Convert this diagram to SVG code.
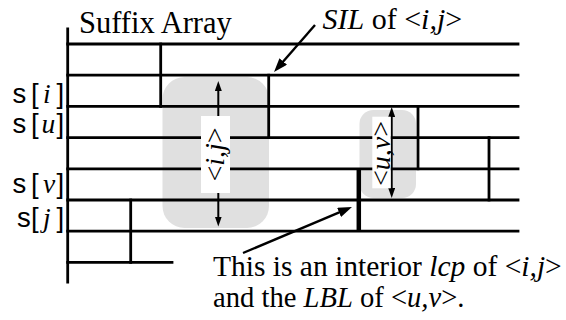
<svg xmlns="http://www.w3.org/2000/svg" width="566" height="320" viewBox="0 0 566 320">
  <defs>
    <style>
      .grid { stroke: #000; stroke-width: 2.8; fill: none; stroke-linecap: square; }
      .thick { stroke: #000; stroke-width: 4.5; fill: none; }
      .band { fill: #e0e0e0; }
      .tag { fill: #fff; }
      .ptr { stroke: #000; stroke-width: 2.4; fill: none; }
      .span { stroke: #000; stroke-width: 2; fill: none; }
      .serif { font-family: "Liberation Serif", "Times New Roman", serif; fill: #000; }
      .sans { font-family: "Liberation Sans", Arial, sans-serif; fill: #000; }
      .it { font-style: italic; }
    </style>
    <marker id="head" viewBox="0 0 14 10" refX="6" refY="5" markerWidth="14" markerHeight="10" orient="auto" markerUnits="userSpaceOnUse">
      <path d="M0,0 L14,5 L0,10 z" fill="#000"/>
    </marker>
    <marker id="tip" viewBox="0 0 10 7" refX="5" refY="3.5" markerWidth="10" markerHeight="7" orient="auto-start-reverse" markerUnits="userSpaceOnUse">
      <path d="M0,0 L10,3.5 L0,7 z" fill="#000"/>
    </marker>
  </defs>

  <!-- shaded intervals -->
  <g id="interval-ij-band">
    <rect class="band" x="162.5" y="77" width="106.5" height="151" rx="22" ry="22"/>
  </g>
  <g id="interval-uv-band">
    <rect class="band" x="359.5" y="110" width="56.5" height="88" rx="14" ry="14"/>
  </g>

  <!-- suffix array rows and lcp boundaries -->
  <g id="suffix-array">
    <line class="grid" x1="67.7" y1="29" x2="67.7" y2="282"/>
    <line class="grid" x1="67.7" y1="44" x2="518" y2="44"/>
    <line class="grid" x1="67.7" y1="75.2" x2="518" y2="75.2"/>
    <line class="grid" x1="67.7" y1="106.4" x2="518" y2="106.4"/>
    <line class="grid" x1="67.7" y1="137.6" x2="518" y2="137.6"/>
    <line class="grid" x1="67.7" y1="168.8" x2="518" y2="168.8"/>
    <line class="grid" x1="67.7" y1="200" x2="518" y2="200"/>
    <line class="grid" x1="67.7" y1="231.2" x2="518" y2="231.2"/>
    <line class="grid" x1="67.7" y1="262.4" x2="172" y2="262.4"/>
    <line class="grid" x1="160.7" y1="44" x2="160.7" y2="106.4"/>
    <line class="grid" x1="268.7" y1="75.2" x2="268.7" y2="137.6"/>
    <line class="grid" x1="418" y1="106.4" x2="418" y2="168.8"/>
    <line class="grid" x1="489" y1="137.6" x2="489" y2="200"/>
    <line class="grid" x1="130.7" y1="200" x2="130.7" y2="262.4"/>
    <line class="thick" x1="358.8" y1="168.8" x2="358.8" y2="231.2"/>
    <text class="serif" x="79" y="33" font-size="30.5">Suffix Array</text>
  </g>

  <!-- row labels -->
  <g id="row-labels" font-size="27.5">
    <text class="sans" y="103"><tspan x="12.5">s</tspan><tspan x="31">[</tspan><tspan class="serif it" x="43">i</tspan><tspan x="56.5">]</tspan></text>
    <text class="sans" y="133"><tspan x="12.5">s</tspan><tspan x="31">[</tspan><tspan class="serif it" x="41.5">u</tspan><tspan x="56.5">]</tspan></text>
    <text class="sans" y="193"><tspan x="12.5">s</tspan><tspan x="31">[</tspan><tspan class="serif it" x="43">v</tspan><tspan x="56.5">]</tspan></text>
    <text class="sans" y="226.5"><tspan x="17">s</tspan><tspan x="31">[</tspan><tspan class="serif it" x="43">j</tspan><tspan x="56.5">]</tspan></text>
  </g>

  <!-- interval extents and pointers -->
  <g id="connectors">
    <line class="span" x1="218.3" y1="86" x2="218.3" y2="221.5" marker-start="url(#tip)" marker-end="url(#tip)"/>
    <line class="span" x1="391.7" y1="112" x2="391.7" y2="193" marker-start="url(#tip)" marker-end="url(#tip)"/>
    <line class="ptr" x1="315" y1="25" x2="279.3" y2="66" marker-end="url(#head)"/>
    <line class="ptr" x1="243" y1="253" x2="344.6" y2="210.1" marker-end="url(#head)"/>
  </g>

  <g id="interval-ij-label">
    <rect class="tag" x="201" y="116" width="29" height="77"/>
    <text class="serif" font-size="28" text-anchor="middle" transform="translate(223.5 154.5) rotate(-90)">&lt;<tspan class="it">i,j</tspan>&gt;</text>
  </g>
  <g id="interval-uv-label">
    <rect class="tag" x="372.3" y="116.7" width="18.4" height="71.6"/>
    <text class="serif" font-size="28" text-anchor="middle" transform="translate(389.5 153.5) rotate(-90)">&lt;<tspan class="it">u,v</tspan>&gt;</text>
  </g>

  <g id="sil-note">
    <text class="serif" x="322.5" y="28.5" font-size="30"><tspan class="it">SIL</tspan> of &lt;<tspan class="it">i,j</tspan>&gt;</text>
  </g>
  <g id="lcp-note">
    <text class="serif" x="213" y="276" font-size="29.5">This is an interior <tspan class="it">lcp</tspan> of &lt;<tspan class="it">i,j</tspan>&gt;</text>
    <text class="serif" x="213" y="307" font-size="28.6">and the <tspan class="it">LBL</tspan> of &lt;<tspan class="it">u,v</tspan>&gt;.</text>
  </g>
</svg>
